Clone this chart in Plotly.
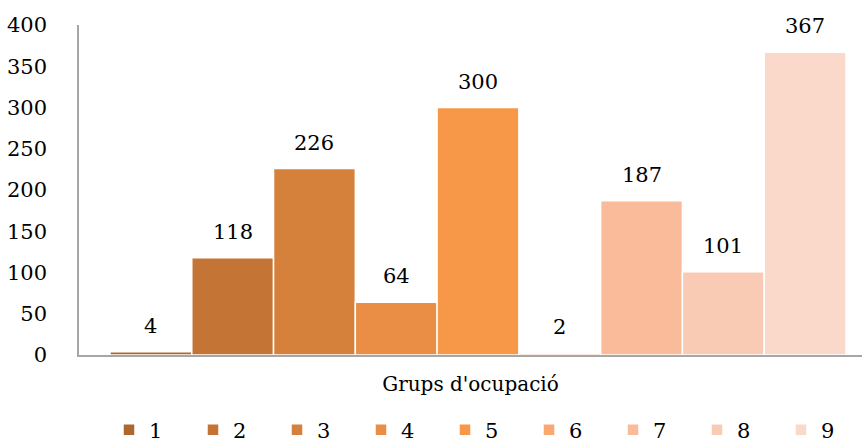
import plotly.graph_objects as go

groups = ["1", "2", "3", "4", "5", "6", "7", "8", "9"]
values = [4, 118, 226, 64, 300, 2, 187, 101, 367]
colors = ["#AD6830", "#C47535", "#D5813B", "#E98E44", "#F79848",
          "#F8A870", "#F9BB9A", "#F9CAB4", "#FBD9CA"]
x_title = "Grups d'ocupació"
y_ticks = [0, 50, 100, 150, 200, 250, 300, 350, 400]

FONT = "DejaVu Serif"
FS = 21

fig = go.Figure()
for i, (g, v, c) in enumerate(zip(groups, values, colors)):
    fig.add_trace(go.Bar(
        x=[i + 1], y=[v], name=g, width=1,
        marker=dict(color=c, line=dict(color="white", width=1.5)),
        hoverinfo="name+y",
    ))
    fig.add_annotation(x=i + 1, y=v, text=str(v), showarrow=False,
                       yanchor="bottom", yshift=12,
                       font=dict(family=FONT, size=FS, color="#000000"))

fig.update_layout(
    width=862, height=443,
    margin=dict(l=79, r=0, t=25, b=88),
    barmode="overlay",
    plot_bgcolor="white", paper_bgcolor="white",
    font=dict(family=FONT, size=FS, color="#000000"),
    showlegend=True,
    legend=dict(orientation="h", xref="container", yref="container",
                x=109 / 862, xanchor="left", y=13 / 443, yanchor="middle",
                entrywidth=39, entrywidthmode="pixels", itemclick=False,
                font=dict(family=FONT, size=FS), traceorder="normal"),
)
fig.update_xaxes(range=[0.121, 9.696], showticklabels=False, ticks="",
                 showgrid=False, zeroline=False, showline=True,
                 linecolor="#A6A6A6", linewidth=1.5,
                 title=dict(text=x_title, standoff=21,
                            font=dict(family=FONT, size=20)))
fig.update_yaxes(range=[0, 400], tickvals=y_ticks, showgrid=False,
                 zeroline=False, showline=True, linecolor="#A6A6A6",
                 linewidth=1.5, ticks="", ticklabelstandoff=26,
                 tickfont=dict(family=FONT, size=FS))

fig.write_html("out.html", config={"displayModeBar": False},
               post_script="document.body.style.margin='0';document.body.style.overflow='hidden';")
